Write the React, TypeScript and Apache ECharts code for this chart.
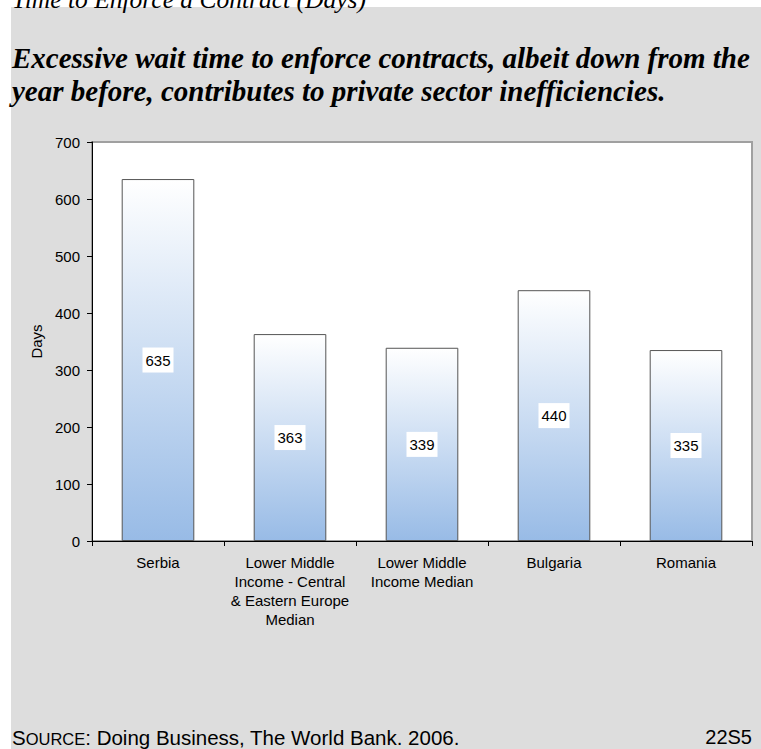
import React, { useEffect, useRef } from "react";
import * as echarts from "echarts";

const categories = [
  "Serbia",
  "Lower Middle\nIncome - Central\n& Eastern Europe\nMedian",
  "Lower Middle\nIncome Median",
  "Bulgaria",
  "Romania",
];
const days = [635, 363, 339, 440, 335];
const yTicks = { min: 0, max: 700, interval: 100 };

const topText = "Time to Enforce a Contract (Days)";
const titleText =
  "Excessive wait time to enforce contracts, albeit down from the\nyear before, contributes to private sector inefficiencies.";

export default function App() {
  const ref = useRef<HTMLDivElement>(null);
  useEffect(() => {
    if (!ref.current) return;
    const chart = echarts.init(ref.current, null, { renderer: "svg" });
    const sans = '"Liberation Sans", Arial, sans-serif';
    const serif = '"Liberation Serif", "Times New Roman", serif';
    chart.setOption({
      animation: false,
      backgroundColor: "#ffffff",
      graphic: [
        {
          type: "rect",
          z: -10,
          shape: { x: 11, y: 7, width: 760, height: 760 },
          style: { fill: "#dddddd" },
        },
        {
          type: "text",
          x: 12,
          y: 12,
          style: {
            text: topText,
            fontSize: 25.5,
            fontStyle: "italic",
            fontFamily: serif,
            verticalAlign: "bottom",
            fill: "#000",
          },
        },
        {
          type: "text",
          x: 12,
          y: 41,
          style: {
            text: titleText,
            fontSize: 29,
            fontStyle: "italic",
            fontWeight: "bold",
            fontFamily: serif,
            lineHeight: 33,
            fill: "#000",
          },
        },
        {
          type: "text",
          x: 12,
          y: 748,
          style: {
            text: "{b|S}{s|OURCE}{b|: Doing Business, The World Bank. 2006.}",
            verticalAlign: "bottom",
            rich: {
              b: { fontSize: 20.5, fontFamily: sans, fill: "#000", lineHeight: 22, verticalAlign: "bottom" },
              s: { fontSize: 16.5, fontFamily: sans, fill: "#000", lineHeight: 22, verticalAlign: "bottom", padding: [0, 0, 1, 0] },
            },
            fill: "#000",
          },
        },
        {
          type: "text",
          x: 752,
          y: 737,
          style: {
            text: "22S5",
            fontSize: 20,
            fontFamily: sans,
            align: "right",
            verticalAlign: "middle",
            fill: "#000",
          },
        },
      ],
      grid: {
        left: 92,
        right: 9,
        top: 142,
        bottom: 208,
        show: true,
        backgroundColor: "#ffffff",
        borderColor: "#a0a0a0",
        borderWidth: 2,
      },
      xAxis: {
        type: "category",
        data: categories,
        axisLine: { show: true, lineStyle: { color: "#000", width: 1 } },
        axisTick: { show: true, alignWithLabel: false, length: 5, lineStyle: { color: "#000" } },
        axisLabel: {
          color: "#000",
          fontSize: 15,
          lineHeight: 19,
          fontFamily: sans,
          margin: 12,
          interval: 0,
        },
      },
      yAxis: {
        type: "value",
        min: yTicks.min,
        max: yTicks.max,
        interval: yTicks.interval,
        name: "Days",
        nameLocation: "middle",
        nameRotate: 90,
        nameGap: 47,
        nameTextStyle: { color: "#000", fontSize: 15, fontFamily: sans },
        axisLine: { show: true, lineStyle: { color: "#000", width: 1 } },
        axisTick: { show: true, length: 5, lineStyle: { color: "#000" } },
        axisLabel: { color: "#000", fontSize: 15, fontFamily: sans, margin: 12 },
        splitLine: { show: false },
      },
      series: [
        {
          type: "bar",
          data: days,
          barWidth: "55%",
          itemStyle: {
            color: new echarts.graphic.LinearGradient(0, 0, 0, 1, [
              { offset: 0, color: "#ffffff" },
              { offset: 1, color: "#98bbe6" },
            ]),
            borderColor: "#555555",
            borderWidth: 1,
          },
          label: {
            show: true,
            position: "inside",
            backgroundColor: "#ffffff",
            padding: [5, 3],
            color: "#000",
            fontSize: 15,
            fontFamily: sans,
          },
        },
      ],
    });
    return () => chart.dispose();
  }, []);
  return (
    <div
      ref={ref}
      style={{ position: "fixed", left: 0, top: 0, width: 761, height: 749 }}
    />
  );
}
